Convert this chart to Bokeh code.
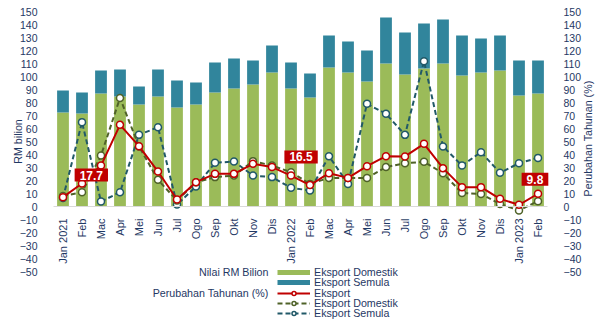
import math
from bokeh.plotting import figure
from bokeh.models import (Range1d, LinearAxis, FixedTicker, Legend, LegendItem,
                          Label, ColumnDataSource)
from bokeh.embed import file_html
from bokeh.resources import INLINE

# ---------------- data ----------------
months = ["Jan 2021", "Feb", "Mac", "Apr", "Mei", "Jun", "Jul", "Ogo", "Sep", "Okt",
          "Nov", "Dis", "Jan 2022", "Feb", "Mac", "Apr", "Mei", "Jun", "Jul", "Ogo",
          "Sep", "Okt", "Nov", "Dis", "Jan 2023", "Feb"]
# RM billion
eksport_domestik = [72.3, 71.5, 86.9, 84.6, 78.5, 84.6, 76.2, 78.5, 87.7, 90.8,
                    93.8, 103.1, 90.8, 83.8, 106.9, 103.1, 96.2, 110.0, 101.5, 106.2,
                    110.0, 100.8, 103.1, 104.6, 85.4, 86.9]
eksport_semula = [16.9, 16.2, 17.7, 20.8, 13.8, 20.8, 20.7, 16.9, 23.1, 23.0,
                  18.5, 20.7, 20.0, 18.5, 24.6, 23.8, 23.8, 35.4, 32.3, 34.6,
                  33.8, 30.7, 26.1, 26.9, 26.9, 25.4]
# year-on-year change, %
yoy_eksport = [7.2, 17.7, 31.5, 62.8, 46.4, 26.9, 5.4, 18.7, 25.1, 25.1,
               32.8, 30.3, 23.8, 16.5, 25.6, 22.0, 31.0, 38.7, 38.5, 48.2,
               29.5, 14.9, 14.9, 5.9, 1.3, 9.8]
yoy_domestik = [8.0, 11.0, 39.2, 83.5, 46.2, 20.5, 4.6, 18.7, 22.6, 23.8,
                34.9, 31.5, 26.4, 17.4, 22.0, 22.0, 22.0, 30.3, 33.3, 34.4,
                25.6, 10.3, 9.7, 2.0, -3.0, 4.1]
yoy_semula = [6.5, 64.9, 3.8, 11.0, 55.1, 61.0, 1.5, 15.4, 33.6, 34.6,
              23.8, 22.6, 14.4, 12.3, 38.7, 17.4, 79.0, 71.3, 55.1, 111.8,
              46.2, 31.5, 41.8, 25.9, 33.3, 37.4]
y_ticks = list(range(-50, 151, 10))
callout_months = [1, 13, 25]  # Feb 2021, Feb 2022, Feb 2023

# ---------------- style ----------------
FONT = "Liberation Sans"
NAVY = "#1F3864"
GREEN = "#9BBB59"
TEAL = "#31859C"
RED = "#C00000"
OLIVE = "#4F6228"
DTEAL = "#215968"

W, H = 604, 330
PLOT_L, PLOT_R, PLOT_T, PLOT_B = 53, 547, 11, 271   # plot area in page pixels
n = len(months)
ux = (PLOT_R - PLOT_L) / n                 # px per category
uy = (PLOT_B - PLOT_T) / 200.0             # px per unit (range -50..150)
x0, x1 = -0.5 - PLOT_L / ux, n - 0.5 + (W - PLOT_R) / ux
y0, y1 = -50 - (H - PLOT_B) / uy, 150 + PLOT_T / uy

xs = list(range(n))
total = [d + r for d, r in zip(eksport_domestik, eksport_semula)]
src = ColumnDataSource(dict(x=xs, dom=eksport_domestik, total=total,
                            ye=yoy_eksport, yd=yoy_domestik, ys=yoy_semula))

p = figure(width=W, height=H, output_backend="svg", toolbar_location=None,
           x_range=Range1d(x0, x1), y_range=Range1d(y0, y1),
           min_border=0, outline_line_color=None)
p.grid.visible = False
p.extra_y_ranges = {"pct": Range1d(y0, y1)}

p.vbar(x="x", bottom=0, top="dom", width=0.62, source=src,
       fill_color=GREEN, line_color=None)
p.vbar(x="x", bottom="dom", top="total", width=0.62, source=src,
       fill_color=TEAL, line_color=None)

def series(col, color, dash):
    ln = p.line(x="x", y=col, source=src, y_range_name="pct", line_color=color,
                line_width=2, line_dash=dash)
    pt = p.scatter(x="x", y=col, source=src, y_range_name="pct", size=7,
                   fill_color="white", line_color=color, line_width=1.5)
    return ln, pt

r_s = series("ys", DTEAL, "5 3")
r_d = series("yd", OLIVE, "5 3")
r_e = series("ye", RED, "solid")

# x axis at zero
xa = p.xaxis[0]
xa.ticker = FixedTicker(ticks=xs)
xa.major_label_overrides = {i: m for i, m in enumerate(months)}
xa.major_label_orientation = math.pi / 2
xa.fixed_location = 0
xa.bounds = (-0.5, n - 0.5)
xa.axis_line_color = "#D9D9D9"
xa.major_tick_line_color = None
xa.minor_tick_line_color = None
xa.major_label_standoff = 6
xa.major_label_text_font = FONT
xa.major_label_text_font_size = "11px"
xa.major_label_text_color = NAVY

def style_y(ax):
    ax.ticker = FixedTicker(ticks=y_ticks)
    ax.axis_line_color = None
    ax.major_tick_line_color = None
    ax.minor_tick_line_color = None
    ax.major_label_standoff = 10
    ax.major_label_text_font = FONT
    ax.major_label_text_font_size = "10.5px"
    ax.major_label_text_color = NAVY

la = p.yaxis[0]
style_y(la)
la.fixed_location = -0.5
ra = LinearAxis(y_range_name="pct")
style_y(ra)
ra.fixed_location = n - 0.5
p.add_layout(ra, "right")

# axis titles
for txt, sx, sy in [("RM bilion", 17, H - 141), ("Perubahan Tahunan (%)", 587, H - 138)]:
    p.add_layout(Label(x=sx, y=sy, x_units="screen", y_units="screen", text=txt,
                       angle=math.pi / 2, text_align="center", text_baseline="middle",
                       text_font=FONT, text_font_size="10.7px", text_color=NAVY))

# callouts
offsets = {1: (0.49, 6.5), 13: (-0.47, 21.6), 25: (-0.16, 11.1)}
for i in callout_months:
    dx, dy = offsets[i]
    p.add_layout(Label(x=i + dx, y=yoy_eksport[i] + dy, y_range_name="pct",
                       text=f"{yoy_eksport[i]:.1f}", text_align="center",
                       text_baseline="middle", text_color="white",
                       text_font=FONT, text_font_style="bold",
                       text_font_size="12px", background_fill_color=RED,
                       padding=dict(left=5, right=5, top=2, bottom=2)))

# legend (bar swatches drawn as thick lines; no visible data)
nan = float("nan")
sw_dom = p.line(x=[0], y=[nan], line_color=GREEN, line_width=5)
sw_re = p.line(x=[0], y=[nan], line_color=TEAL, line_width=5)
items = [
    ("Eksport Domestik", [sw_dom]),
    ("Eksport Semula", [sw_re]),
    ("Eksport", list(r_e)),
    ("Eksport Domestik", list(r_d)),
    ("Eksport Semula", list(r_s)),
]
row_centers = [271.7, 282.3, 292.6, 303.0, 313.3]
for (lab, rends), cy in zip(items, row_centers):
    lg = Legend(items=[LegendItem(label=lab, renderers=rends)],
                location=(277, H - (cy + 6)), orientation="vertical",
                glyph_width=33, glyph_height=10, label_height=10, spacing=0,
                padding=0, margin=0, label_standoff=4, border_line_color=None,
                background_fill_alpha=0, label_text_font=FONT,
                label_text_font_size="10.7px", label_text_color=NAVY)
    p.add_layout(lg)

for txt, sy in [("Nilai RM Bilion", H - 271.7), ("Perubahan Tahunan (%)", H - 292.3)]:
    p.add_layout(Label(x=268, y=sy, x_units="screen", y_units="screen", text=txt,
                       text_align="right", text_baseline="middle",
                       text_font=FONT, text_font_size="10.7px", text_color=NAVY))

open("out.html", "w").write(file_html(p, INLINE))
